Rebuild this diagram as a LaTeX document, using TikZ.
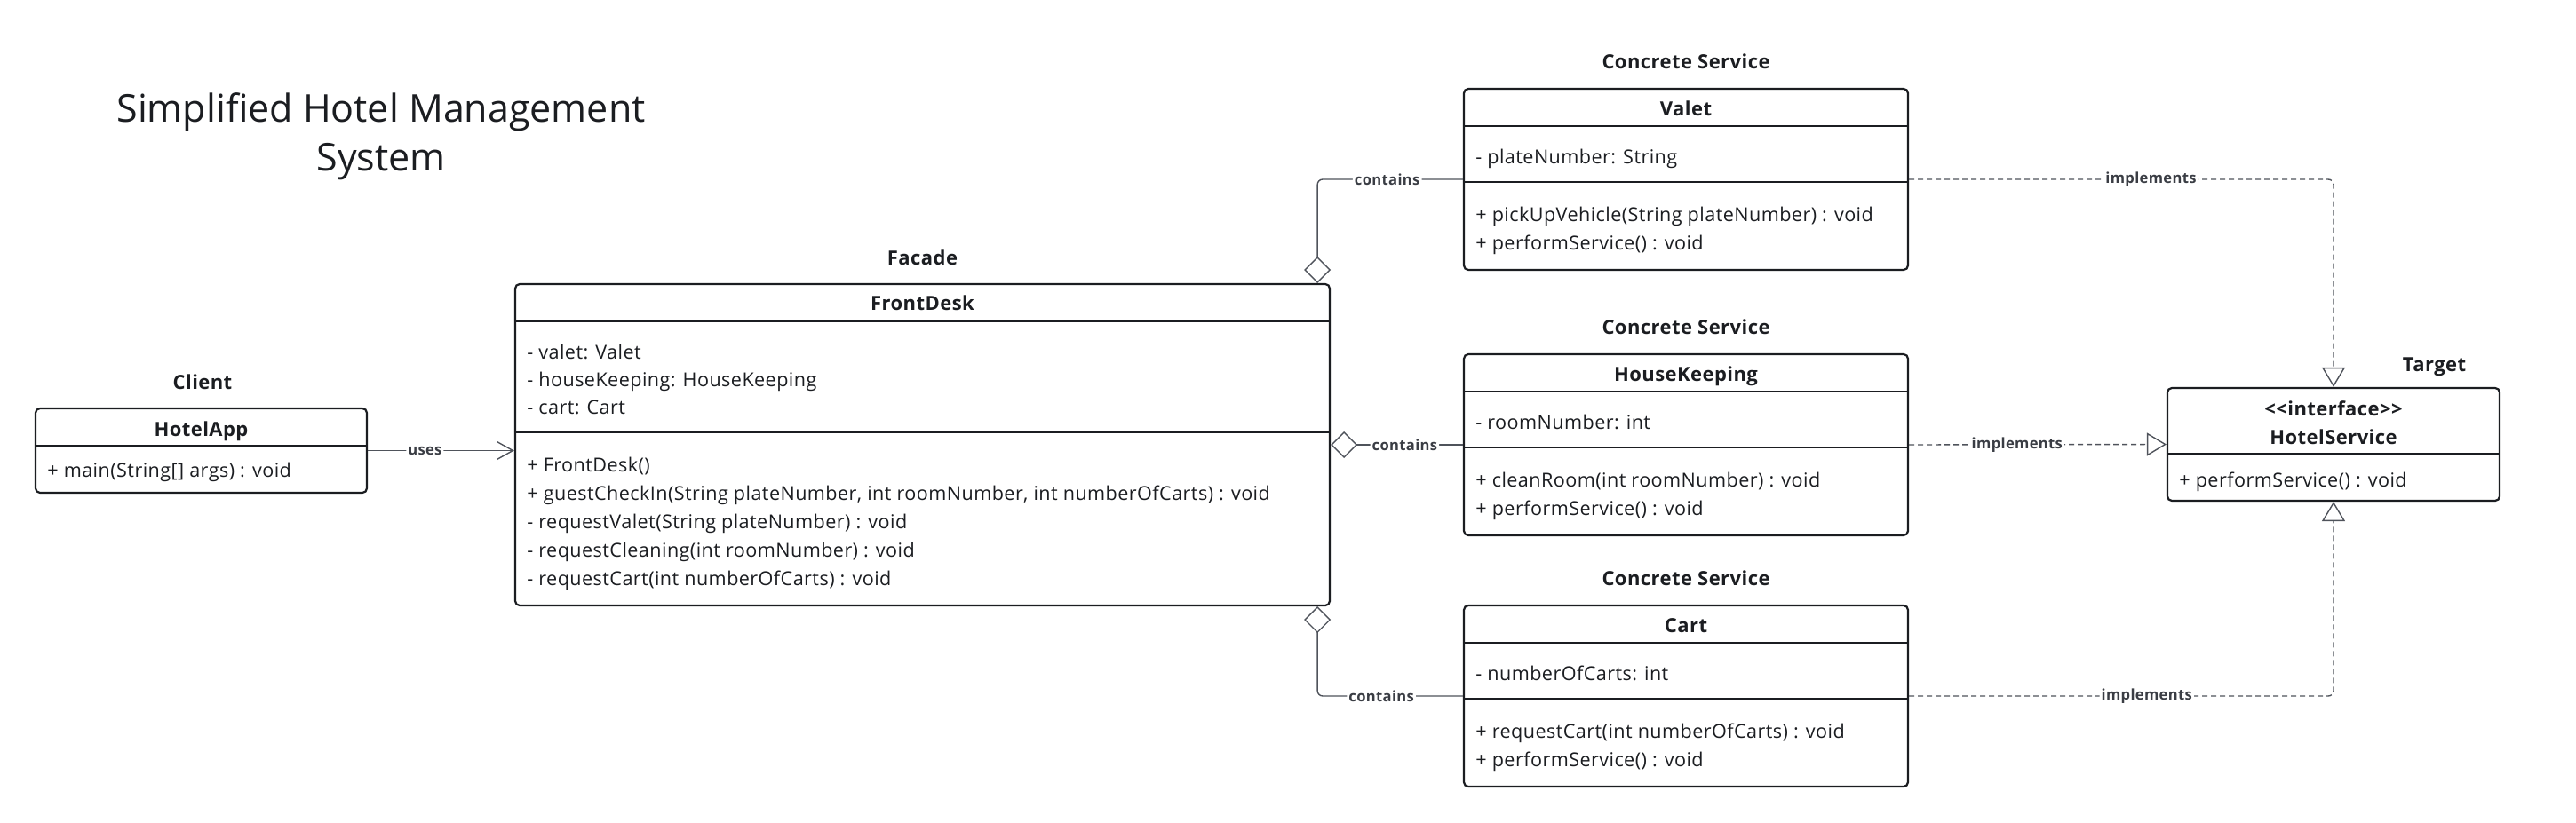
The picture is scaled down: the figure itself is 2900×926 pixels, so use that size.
\documentclass[tikz,border=0pt]{standalone}
\usepackage{fontspec}
\setmainfont{Open Sans}[Ligatures=TeXOff, LetterSpace=2]
\usetikzlibrary{arrows.meta}
\definecolor{ink}{HTML}{1B1D21}
\definecolor{wiregrey}{HTML}{4F535B}
\definecolor{taggrey}{HTML}{3A3D44}

\begin{document}
\begin{tikzpicture}[x=0.5pt, y=-0.5pt,
	cls/.style={draw=ink, line width=1.1pt, rounded corners=2.5pt, inner sep=0pt},
	sep/.style={draw=ink, line width=1.1pt},
	txt/.style={anchor=base west, inner sep=0pt, text=ink, font=\fontsize{10.8}{12}\selectfont},
	hdr/.style={anchor=base, inner sep=0pt, text=ink, font=\bfseries\fontsize{11}{12}\selectfont},
	lbl/.style={fill=white, inner sep=1pt, text=taggrey, font=\bfseries\fontsize{8.3}{9}\selectfont},
	wire/.style={draw=wiregrey, line width=0.7pt, rounded corners=3pt},
	impl/.style={wire, dash pattern=on 3pt off 2pt, -{Triangle[open, length=11pt, width=13pt]}},
	agg/.style={wire, {Diamond[open, length=15pt, width=15pt]}-},
]
	\useasboundingbox (0,0) rectangle (2900,926);

	% title
	\node[text=ink, align=center, font=\addfontfeature{LetterSpace=0}\fontsize{21.5}{27.5}\selectfont] (title) at (429,154) {Simplified Hotel Management\\System};

	% client
	\node[hdr] (client) at (228,438) {Client};
	\node[cls, minimum width=186.5pt, minimum height=47.5pt] (ha) at (226.5,507.5) {};
	\draw[sep] ([yshift=-21.5pt]ha.north west) -- ([yshift=-21.5pt]ha.north east);
	\node[hdr] (haname) at (226.5,491) {HotelApp};
	\node[txt] (ham) at (53,537) {+ main(String[] args) : void};

	% facade
	\node[hdr] (facade) at (1038.5,298) {Facade};
	\node[cls, minimum width=458.5pt, minimum height=181pt] (fd) at (1038.5,501) {};
	\draw[sep] ([yshift=-21.5pt]fd.north west) -- ([yshift=-21.5pt]fd.north east);
	\draw[sep] ([yshift=-84pt]fd.north west) -- ([yshift=-84pt]fd.north east);
	\node[hdr] (fdname) at (1038.5,349) {FrontDesk};
	\foreach \t [count=\i from 0] in {- valet: Valet, - houseKeeping: HouseKeeping, - cart: Cart}
		\node[txt] (fda\i) at (593,404+31*\i) {\t};
	\foreach \t [count=\i from 0] in {+ FrontDesk(), {+ guestCheckIn(String plateNumber, int roomNumber, int numberOfCarts) : void}, - requestValet(String plateNumber) : void, - requestCleaning(int roomNumber) : void, - requestCart(int numberOfCarts) : void}
		\node[txt] (fdm\i) at (593,531+32*\i) {\t};

	% concrete services
	\foreach \n/\ty/\c/\a/\ma in {vl/100/Valet/{- plateNumber: String}/{+ pickUpVehicle(String plateNumber) : void},
		hk/399/HouseKeeping/{- roomNumber: int}/{+ cleanRoom(int roomNumber) : void},
		ct/682/Cart/{- numberOfCarts: int}/{+ requestCart(int numberOfCarts) : void}} {
		\node[hdr] (\n-role) at (1898,\ty-23) {Concrete Service};
		\node[cls, minimum width=250pt, minimum height=102pt] (\n) at (1898,\ty+102) {};
		\draw[sep] ([yshift=-21.5pt]\n.north west) -- ([yshift=-21.5pt]\n.north east);
		\draw[sep] ([yshift=-53pt]\n.north west) -- ([yshift=-53pt]\n.north east);
		\node[hdr] (\n-name) at (1898,\ty+30) {\c};
		\node[txt] (\n-attr) at (1661,\ty+84) {\a};
		\node[txt] (\n-m1) at (1661,\ty+149) {\ma};
		\node[txt] (\n-m2) at (1661,\ty+181) {+ performService() : void};
	}

	% target
	\node[hdr] (target) at (2740.5,418) {Target};
	\node[cls, minimum width=187pt, minimum height=63.5pt] (hs) at (2627,500.5) {};
	\draw[sep] ([yshift=-37.5pt]hs.north west) -- ([yshift=-37.5pt]hs.north east);
	\node[hdr] (hsst) at (2627,468) {<<interface>>};
	\node[hdr] (hsname) at (2627,500) {HotelService};
	\node[txt] (hsm) at (2453,548) {+ performService() : void};

	% connectors
	\coordinate (fdtop) at ([xshift=-7.5pt]fd.north east);
	\coordinate (fdbot) at ([xshift=-7.5pt]fd.south east);
	\draw[wire, -{Straight Barb[length=9pt, width=10pt]}] (ha.east) -- (ha.east -| fd.west) node[lbl, pos=0.39] (uses) {uses};
	\draw[agg] (fdtop) |- (vl.west) node[lbl, pos=0.74] (c1) {contains};
	\draw[agg] (fd.east) -- (hk.west) node[lbl, pos=0.56] (c2) {contains};
	\draw[agg] (fdbot) |- (ct.west) node[lbl, pos=0.72] (c3) {contains};
	\draw[impl] (vl.east) -| (hs.north) node[lbl, pos=0.285] (i1) {implements};
	\draw[impl] (hk.east) -- (hs.west) node[lbl, pos=0.42] (i2) {implements};
	\draw[impl] (ct.east) -| (hs.south) node[lbl, pos=0.28] (i3) {implements};
\end{tikzpicture}
\end{document}
